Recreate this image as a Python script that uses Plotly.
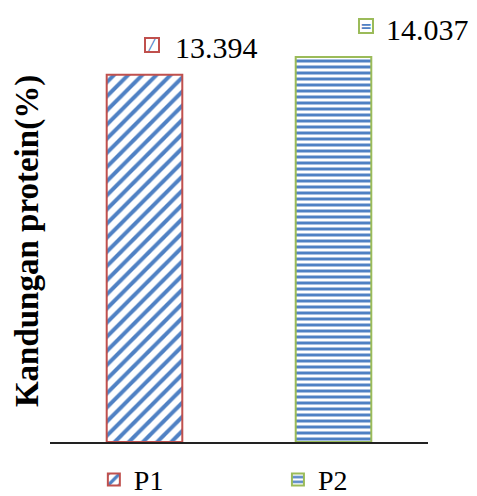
import plotly.graph_objects as go

categories = ["P1", "P2"]
values = [13.394, 14.037]
value_labels = ["13.394", "14.037"]

# styles
fill_blue = "#4F81C4"
border_colors = ["#C0504D", "#9BBB59"]
patterns = ["/", "-"]
pattern_sizes = [10, 6]
pattern_solidity = [0.4, 0.5]
icon_glyphs = ["╱", "="]
icon_shift = [7, 32]
icon_yshift = [30, 31]
text_shift = [28, 50]
label_yshift = [27, 28]
legend_names = ["legend", "legend2"]
legend_x = [0.116, 0.603]

font_family = "Liberation Serif, Times New Roman, serif"

fig = go.Figure()
for i, cat in enumerate(categories):
    fig.add_trace(go.Bar(
        x=[cat], y=[values[i]], name=cat, width=0.4,
        legend=legend_names[i],
        marker=dict(
            color="white",
            line=dict(color=border_colors[i], width=2),
            pattern=dict(shape=patterns[i], fgcolor=fill_blue, bgcolor="white",
                         size=pattern_sizes[i], solidity=pattern_solidity[i],
                         fillmode="overlay", fgopacity=1),
        ),
    ))
    # legend-key icon next to data label
    fig.add_annotation(
        x=cat, y=values[i], xref="x", yref="y",
        text="<b>" + icon_glyphs[i] + "</b>", showarrow=False,
        font=dict(family="DejaVu Sans", size=14, color=fill_blue),
        bgcolor="white", bordercolor=border_colors[i], borderwidth=2,
        width=12, height=12, borderpad=0,
        xshift=icon_shift[i], yshift=icon_yshift[i],
        xanchor="center", yanchor="middle",
    )
    fig.add_annotation(
        x=cat, y=values[i], xref="x", yref="y",
        text=value_labels[i], showarrow=False,
        font=dict(family=font_family, size=30, color="black"),
        xshift=text_shift[i], yshift=label_yshift[i],
        xanchor="left", yanchor="middle",
    )

legend_style = dict(
    orientation="h", xanchor="left", y=-0.094, yanchor="middle",
    font=dict(family=font_family, size=28, color="black"),
    bgcolor="rgba(0,0,0,0)",
)

fig.update_layout(
    width=477, height=496,
    margin=dict(l=50, r=49, t=40, b=54, autoexpand=False),
    paper_bgcolor="white", plot_bgcolor="white",
    barmode="overlay",
    showlegend=True,
    legend=dict(x=legend_x[0], **legend_style),
    legend2=dict(x=legend_x[1], **legend_style),
    xaxis=dict(
        showticklabels=False, ticks="", showgrid=False,
        showline=True, linecolor="#222222", linewidth=2,
        range=[-0.5, 1.5], automargin=False, layer="above traces",
    ),
    yaxis=dict(
        range=[0, 14.66], showticklabels=False, ticks="", showgrid=False,
        zeroline=False, showline=False, automargin=False,
        title=dict(text="<b>Kandungan protein(%)</b>", standoff=0,
                   font=dict(family=font_family, size=33, color="black")),
    ),
)

fig.write_html(
    "out.html",
    config={"displayModeBar": False},
    post_script="document.body.style.margin='0';document.body.style.overflow='hidden';",
)
